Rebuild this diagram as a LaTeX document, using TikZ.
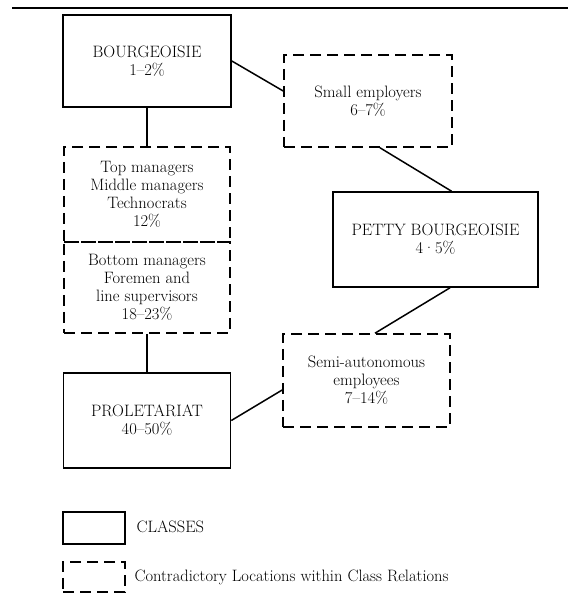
\documentclass[tikz,border=0pt]{standalone}
\usetikzlibrary{calc}

\tikzset{
	classbox/.style={draw, line width=1.6pt, align=center, inner sep=0pt},
	contrbox/.style={draw, line width=1.6pt, dash pattern=on 11pt off 6pt, align=center, inner sep=0pt},
	link/.style={line width=1.5pt}
}

\begin{document}
\begin{tikzpicture}[x=1pt, y=1pt, font=\fontsize{16.5}{18}\selectfont]
			%%%%% START %%%%%
			\useasboundingbox (0, 0) rectangle (568, 594);
			
			\draw[line width=1.4pt] (12, 586) -- (568, 586);
			
			% classes
			\node[classbox, minimum width=168pt, minimum height=92pt] (bourg) at (147, 533) {BOURGEOISIE\\1--2\%};
			\node[classbox, minimum width=205pt, minimum height=95pt] (petty) at (435.5, 354.5) {PETTY BOURGEOISIE\\4\textperiodcentered5\%};
			\node[classbox, minimum width=167pt, minimum height=95pt] (prol) at (147, 173.5) {PROLETARIAT\\40--50\%};
			
			% contradictory locations
			\node[contrbox, minimum width=168pt, minimum height=92pt] (small) at (368, 493) {Small employers\\6--7\%};
			\node[contrbox, minimum width=166pt, minimum height=95pt] (mgrtop) at (147, 399.5) {Top managers\\Middle managers\\Technocrats\\12\%};
			\node[contrbox, minimum width=166pt, minimum height=91pt] (mgrbot) at (147, 306.5) {Bottom managers\\Foremen and\\line supervisors\\18--23\%};
			\node[contrbox, minimum width=167pt, minimum height=93pt] (semi) at (366.5, 213.5) {Semi-autonomous\\employees\\7--14\%};
			
			\draw[link] (bourg.south) -- (mgrtop.north);
			\draw[link] (bourg.east) -- ($(small.west)+(0, 10)$);
			\draw[link] ($(small.south)+(12, 0)$) -- ($(petty.north)+(16, 0)$);
			\draw[link] ($(petty.south)+(14.5, 0)$) -- ($(semi.north)+(8.5, 0)$);
			\draw[link] (mgrbot.south) -- (prol.north);
			\draw[link] (prol.east) -- ($(semi.west)+(0, -9.5)$);
			
			% legend
			\node[classbox, minimum width=62pt, minimum height=32pt] (keyclass) at (94, 66) {};
			\node[anchor=west] (keyclasstext) at (133, 67) {CLASSES};
			\node[contrbox, minimum width=62pt, minimum height=30pt] (keycontr) at (94, 17) {};
			\node[anchor=west] (keycontrtext) at (131, 17) {Contradictory Locations within Class Relations};
			
			%%%%% END %%%%%
		\end{tikzpicture}
\end{document}
